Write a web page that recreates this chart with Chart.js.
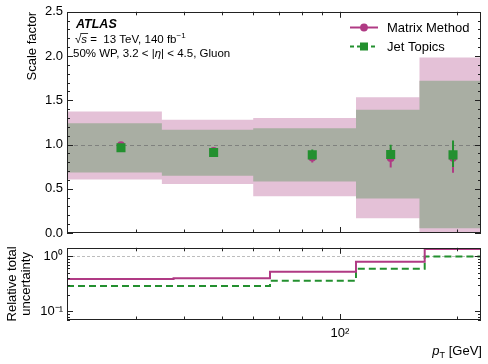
<!DOCTYPE html>
<html>
<head>
<meta charset="utf-8">
<script src="https://cdn.jsdelivr.net/npm/chart.js@4.4.0/dist/chart.umd.min.js"></script>
<style>
  html, body { margin: 0; padding: 0; background: #fff; }
  #wrap { position: relative; width: 488px; height: 364px; }
  #top { position: absolute; left: 0; top: 0; }
  #bottom { position: absolute; left: 0; top: 236px; }
</style>
</head>
<body>
<div id="wrap">
  <canvas id="top" width="488" height="246"></canvas>
  <canvas id="bottom" width="488" height="128"></canvas>
</div>
<script>
// pT bins [GeV]
const binEdges = [20, 35, 60, 110, 160, 230];
const binCentres = [27.5, 47.5, 85, 135, 195];

// scale factors with stat errors
const mmSF = [0.993, 0.929, 0.854, 0.849, 0.85];
const mmStat = [0.015, 0.015, 0.057, 0.11, 0.17];
const jtSF = [0.964, 0.909, 0.883, 0.888, 0.883];
const jtStatUp = [0.015, 0.015, 0.062, 0.11, 0.163];
const jtStatDown = [0.015, 0.015, 0.03, 0.03, 0.138];

// total uncertainty bands
const mmBandLow = [0.606, 0.555, 0.415, 0.167, -0.29];
const mmBandHigh = [1.373, 1.28, 1.30, 1.533, 1.984];
const jtBandLow = [0.685, 0.646, 0.581, 0.389, 0.053];
const jtBandHigh = [1.24, 1.168, 1.183, 1.394, 1.721];

// relative total uncertainty (lower panel)
const mmRelUnc = [0.388, 0.398, 0.522, 0.794, 1.345];
const jtRelUnc = [0.288, 0.288, 0.358, 0.59, 0.99];

// axis ticks
const xMinorTicks = [30, 40, 50, 60, 70, 80, 90, 200];
const xMajorTicks = [100];
const sfMajorTicks = [0, 0.5, 1, 1.5, 2, 2.5];
const relMajorTicks = [0.1, 1];
const relMinorTicks = [0.07, 0.08, 0.09, 0.2, 0.3, 0.4, 0.5, 0.6, 0.7, 0.8, 0.9];

const MAGENTA = '#b03a84';
const GREEN = '#23902f';
const PINK = '#e4c1d7';
const GREY = '#a9aea3';
const ff = '"Liberation Sans", Arial, sans-serif';

function stepData(xs, vals) {
    return xs.map((x, i) => ({ x: x, y: vals[Math.min(i, vals.length - 1)] }));
}
function pointData(xs, ys) {
    return xs.map((x, i) => ({ x: x, y: ys[i] }));
}
// lower panel steps sit halfway between bin centres
const relSteps = [binEdges[0]]
    .concat(binCentres.slice(1).map((c, i) => (c + binCentres[i]) / 2))
    .concat([binEdges[binEdges.length - 1]]);

function drawFrame(chart, yMajor, yMinor) {
    const { ctx, chartArea: a, scales: { x, y } } = chart;
    ctx.save();
    ctx.strokeStyle = '#222';
    ctx.lineWidth = 1;
    ctx.beginPath();
    const xt = (v, len) => {
        const px = Math.round(x.getPixelForValue(v)) + 0.5;
        ctx.moveTo(px, a.bottom); ctx.lineTo(px, a.bottom - len);
        ctx.moveTo(px, a.top); ctx.lineTo(px, a.top + len);
    };
    const yt = (v, len) => {
        const py = Math.round(y.getPixelForValue(v)) + 0.5;
        ctx.moveTo(a.left, py); ctx.lineTo(a.left + len, py);
        ctx.moveTo(a.right, py); ctx.lineTo(a.right - len, py);
    };
    xMinorTicks.forEach(v => xt(v, 3.5));
    xMajorTicks.forEach(v => xt(v, 6));
    yMinor.forEach(v => yt(v, 3));
    yMajor.forEach(v => yt(v, 6));
    ctx.stroke();
    ctx.strokeRect(Math.round(a.left) + 0.5, Math.round(a.top) + 0.5,
        Math.round(a.right - a.left) - 1, Math.round(a.bottom - a.top) - 1);
    ctx.restore();
}

function refLine(chart, color, dash) {
    const { ctx, chartArea: a, scales: { y } } = chart;
    const py = Math.round(y.getPixelForValue(1)) + 0.5;
    ctx.save();
    ctx.strokeStyle = color;
    ctx.lineWidth = 1;
    ctx.setLineDash(dash);
    ctx.beginPath();
    ctx.moveTo(a.left, py);
    ctx.lineTo(a.right, py);
    ctx.stroke();
    ctx.restore();
}

function errorBars(chart, sf, up, down, color) {
    const { ctx, scales: { x, y } } = chart;
    ctx.save();
    ctx.strokeStyle = color;
    ctx.lineWidth = 2;
    ctx.beginPath();
    binCentres.forEach((c, i) => {
        const px = x.getPixelForValue(c);
        ctx.moveTo(px, y.getPixelForValue(sf[i] + up[i]));
        ctx.lineTo(px, y.getPixelForValue(sf[i] - down[i]));
    });
    ctx.stroke();
    ctx.restore();
}

function richText(ctx, x, y, parts) {
    let cx = x;
    parts.forEach(p => {
        ctx.font = (p.style || '') + ' ' + (p.size || 11.5) + 'px ' + ff;
        ctx.fillText(p.t, cx, y + (p.dy || 0));
        const w = ctx.measureText(p.t).width;
        if (p.over) ctx.fillRect(cx - 1, y - 9.5, w + 2, 0.8);
        cx += w;
    });
}

const topPlugin = {
    id: 'sfDecor',
    beforeDatasetsDraw(chart) {
        refLine(chart, 'rgba(110,110,110,0.7)', [4, 3]);
    },
    beforeDatasetDraw(chart, args) {
        if (args.index === 1) errorBars(chart, mmSF, mmStat, mmStat, MAGENTA);
        if (args.index === 0) errorBars(chart, jtSF, jtStatUp, jtStatDown, GREEN);
    },
    afterDraw(chart) {
        drawFrame(chart, sfMajorTicks, [0.1, 0.2, 0.3, 0.4, 0.6, 0.7, 0.8, 0.9, 1.1, 1.2, 1.3, 1.4,
            1.6, 1.7, 1.8, 1.9, 2.1, 2.2, 2.3, 2.4]);
        const ctx = chart.ctx;
        ctx.save();
        ctx.fillStyle = '#000';
        ctx.textBaseline = 'alphabetic';
        ctx.font = 'italic bold 12.5px ' + ff;
        ctx.fillText('ATLAS', 76, 27.5);
        richText(ctx, 75, 42.5, [
            { t: '√' }, { t: 's', style: 'italic', over: true },
            { t: ' =  13 TeV, 140 fb' }, { t: '−1', size: 8, dy: -4.5 }
        ]);
        richText(ctx, 73, 56.5, [
            { t: '50% WP, 3.2 < |' }, { t: 'η', style: 'italic' }, { t: '| < 4.5, Gluon' }
        ]);
        // legend
        ctx.lineWidth = 2;
        ctx.strokeStyle = MAGENTA;
        ctx.beginPath(); ctx.moveTo(350, 27.5); ctx.lineTo(378, 27.5); ctx.stroke();
        ctx.fillStyle = MAGENTA;
        ctx.beginPath(); ctx.arc(364, 27.5, 3.9, 0, 2 * Math.PI); ctx.fill();
        ctx.strokeStyle = GREEN;
        ctx.setLineDash([4, 3]);
        ctx.beginPath(); ctx.moveTo(350, 46.5); ctx.lineTo(378, 46.5); ctx.stroke();
        ctx.setLineDash([]);
        ctx.fillStyle = GREEN;
        ctx.fillRect(360, 42.5, 8, 8);
        ctx.fillStyle = '#000';
        ctx.font = '13px ' + ff;
        ctx.textBaseline = 'middle';
        ctx.fillText('Matrix Method', 387, 28);
        ctx.fillText('Jet Topics', 387, 47);
        ctx.restore();
    }
};

const bottomPlugin = {
    id: 'relDecor',
    beforeDatasetsDraw(chart) {
        refLine(chart, '#bdbdbd', [3, 2]);
    },
    afterDraw(chart) {
        drawFrame(chart, relMajorTicks, relMinorTicks);
        const ctx = chart.ctx;
        ctx.save();
        ctx.fillStyle = '#000';
        ctx.textBaseline = 'alphabetic';
        ctx.font = '13px ' + ff;
        const tail = ' [GeV]';
        const wTail = ctx.measureText(tail).width;
        ctx.font = '7.5px ' + ff;
        const wSub = ctx.measureText('T').width;
        ctx.font = 'italic 13px ' + ff;
        const wP = ctx.measureText('p').width;
        let x0 = 481 - wTail - wSub - wP;
        richText(ctx, x0, 119, [
            { t: 'p', style: 'italic', size: 13 }, { t: 'T', size: 9, dy: 2.5 }, { t: tail, size: 13 }
        ]);
        ctx.restore();
    }
};

const baseTicks = { color: '#000', font: { family: ff, size: 13 }, padding: 4 };

new Chart(document.getElementById('top'), {
    type: 'line',
    data: {
        datasets: [
            { label: 'Jet Topics', data: pointData(binCentres, jtSF), showLine: false, pointStyle: 'rect',
              pointRadius: 6.4, pointBackgroundColor: GREEN, pointBorderWidth: 0, order: 0 },
            { label: 'Matrix Method', data: pointData(binCentres, mmSF), showLine: false, pointStyle: 'circle',
              pointRadius: 3.9, pointBackgroundColor: MAGENTA, pointBorderWidth: 0, order: 1 },
            { data: stepData(binEdges, jtBandLow), stepped: 'before', borderColor: 'rgba(0,0,0,0)',
              pointRadius: 0, fill: false, order: 2 },
            { data: stepData(binEdges, jtBandHigh), stepped: 'before', borderColor: 'rgba(0,0,0,0)',
              pointRadius: 0, fill: 2, backgroundColor: GREY, order: 3 },
            { data: stepData(binEdges, mmBandLow), stepped: 'before', borderColor: 'rgba(0,0,0,0)',
              pointRadius: 0, fill: false, order: 4 },
            { data: stepData(binEdges, mmBandHigh), stepped: 'before', borderColor: 'rgba(0,0,0,0)',
              pointRadius: 0, fill: 4, backgroundColor: PINK, order: 5 }
        ]
    },
    options: {
        responsive: false,
        animation: false,
        events: [],
        layout: { padding: { left: 0, right: 7, top: 11, bottom: 0 } },
        plugins: { legend: { display: false }, tooltip: { enabled: false }, filler: { drawTime: 'beforeDatasetsDraw' } },
        scales: {
            x: {
                type: 'logarithmic', min: 20, max: 230,
                grid: { display: false, drawTicks: false }, border: { display: false },
                ticks: { display: false },
                afterFit: s => { s.height = 13; }
            },
            y: {
                min: 0, max: 2.5,
                grid: { display: false, drawTicks: false }, border: { display: false },
                ticks: Object.assign({}, baseTicks, { stepSize: 0.5, callback: v => v.toFixed(1) }),
                title: { display: true, text: 'Scale factor', align: 'end', color: '#000',
                         font: { family: ff, size: 13 }, padding: { top: 25, bottom: 0 } },
                afterFit: s => { s.width = 67; }
            }
        }
    },
    plugins: [topPlugin]
});

new Chart(document.getElementById('bottom'), {
    type: 'line',
    data: {
        datasets: [
            { label: 'Matrix Method', data: stepData(relSteps, mmRelUnc), stepped: 'before',
              borderColor: MAGENTA, borderWidth: 2, pointRadius: 0, fill: false },
            { label: 'Jet Topics', data: stepData(relSteps, jtRelUnc), stepped: 'before',
              borderColor: GREEN, borderWidth: 2, borderDash: [7, 4], pointRadius: 0, fill: false }
        ]
    },
    options: {
        responsive: false,
        animation: false,
        events: [],
        layout: { padding: { left: 0, right: 7, top: 10, bottom: 0 } },
        plugins: { legend: { display: false }, tooltip: { enabled: false } },
        scales: {
            x: {
                type: 'logarithmic', min: 20, max: 230,
                grid: { display: false, drawTicks: false }, border: { display: false },
                ticks: Object.assign({}, baseTicks, { padding: 6, maxRotation: 0, autoSkip: false,
                    callback: v => (v === 100 ? '10²' : '') }),
                afterBuildTicks: s => { s.ticks = xMajorTicks.map(v => ({ value: v })); },
                afterFit: s => { s.height = 44; }
            },
            y: {
                type: 'logarithmic', min: 0.07, max: 1.42,
                grid: { display: false, drawTicks: false }, border: { display: false },
                ticks: Object.assign({}, baseTicks, { autoSkip: false,
                    callback: v => (v === 1 ? '10⁰' : v === 0.1 ? '10⁻¹' : '') }),
                afterBuildTicks: s => { s.ticks = relMajorTicks.map(v => ({ value: v })); },
                title: { display: true, text: ['Relative total', 'uncertainty'], align: 'center', color: '#000',
                         font: { family: ff, size: 13, lineHeight: 1.1 }, padding: { top: 5, bottom: 0 } },
                afterFit: s => { s.width = 67; }
            }
        }
    },
    plugins: [bottomPlugin]
});
</script>
</body>
</html>
